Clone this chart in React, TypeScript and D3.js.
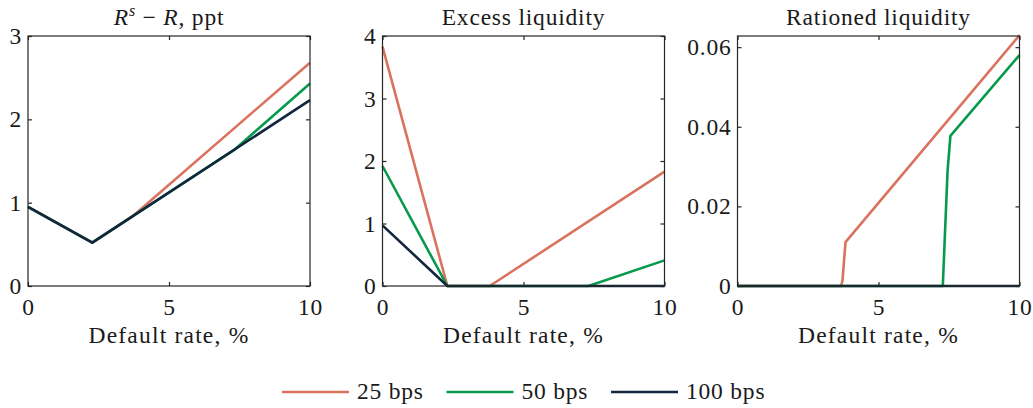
// @ts-nocheck
import React, { useEffect, useRef } from 'react';
import * as d3 from 'd3';

// series names and colours
const seriesNames = ['25 bps', '50 bps', '100 bps'];
const seriesColors = ['#d9735f', '#079a4c', '#13263f'];

// panel 1: R^s - R, ppt  (x = default rate %, y)
const spread25 = [[0, 0.95], [2.28, 0.52], [3.7, 0.835], [10, 2.68]];
const spread50 = [[0, 0.95], [2.28, 0.52], [7.3, 1.63], [10, 2.43]];
const spread100 = [[0, 0.95], [2.28, 0.52], [10, 2.23]];

// panel 2: excess liquidity
const excess25 = [[0, 3.83], [2.3, 0], [3.8, 0], [10, 1.83]];
const excess50 = [[0, 1.92], [2.3, 0], [7.3, 0], [10, 0.41]];
const excess100 = [[0, 0.97], [2.3, 0], [10, 0]];

// panel 3: rationed liquidity
const rationed25 = [[0, 0], [3.67, 0], [3.72, 0.0012], [3.83, 0.011], [10, 0.063]];
const rationed50 = [[0, 0], [7.28, 0], [7.45, 0.029], [7.55, 0.0377], [10, 0.058]];
const rationed100 = [[0, 0], [10, 0]];

const xTicks = [0, 5, 10];
const panels = [
  { title: 'spread', yMax: 3, yTicks: [0, 1, 2, 3], fmt: (d) => String(d), series: [spread25, spread50, spread100] },
  { title: 'Excess liquidity', yMax: 4, yTicks: [0, 1, 2, 3, 4], fmt: (d) => String(d), series: [excess25, excess50, excess100] },
  { title: 'Rationed liquidity', yMax: 0.0628, yTicks: [0, 0.02, 0.04, 0.06], fmt: (d) => (d === 0 ? '0' : d.toFixed(2)), series: [rationed25, rationed50, rationed100] },
];
const panelLeft = [28, 382.5, 737.5];

const FONT = '"Liberation Serif", serif';
const FS = 23.5;
const LS = 0.8;

const App: React.FC = () => {
  const ref = useRef<SVGSVGElement | null>(null);

  useEffect(() => {
    const svg = d3.select(ref.current);
    svg.selectAll('*').remove();
    const top = 36;
    const bottom = 286;
    const w = 282;

    panels.forEach((p, i) => {
      const x0 = panelLeft[i];
      const x = d3.scaleLinear().domain([0, 10]).range([x0, x0 + w]);
      const y = d3.scaleLinear().domain([0, p.yMax]).range([bottom, top]);
      const g = svg.append('g');

      // lines
      const line = d3.line().x((d) => x(d[0])).y((d) => y(d[1]));
      p.series.forEach((s, k) => {
        g.append('path')
          .attr('d', line(s))
          .attr('fill', 'none')
          .attr('stroke', seriesColors[k])
          .attr('stroke-width', 2.6)
          .attr('stroke-linejoin', 'round');
      });

      // box
      g.append('rect')
        .attr('x', x0).attr('y', top).attr('width', w).attr('height', bottom - top)
        .attr('fill', 'none').attr('stroke', '#262626').attr('stroke-width', 1.2);

      // bottom axis (inward ticks)
      const ax = g.append('g').attr('transform', `translate(0,${bottom})`)
        .call(d3.axisBottom(x).tickValues(xTicks).tickSize(-4).tickPadding(12).tickFormat(d3.format('d')));
      // top ticks
      g.append('g').attr('transform', `translate(0,${top})`)
        .call(d3.axisTop(x).tickValues(xTicks).tickSize(-4).tickFormat(() => ''));
      // left axis
      g.append('g').attr('transform', `translate(${x0},0)`)
        .call(d3.axisLeft(y).tickValues(p.yTicks).tickSize(-4).tickPadding(6).tickFormat(p.fmt));
      // right ticks
      g.append('g').attr('transform', `translate(${x0 + w},0)`)
        .call(d3.axisRight(y).tickValues(p.yTicks).tickSize(-4).tickFormat(() => ''));

      g.selectAll('.domain').remove();
      g.selectAll('.tick line').attr('stroke', '#262626').attr('stroke-width', 1.2);
      g.selectAll('.tick text')
        .attr('font-family', FONT).attr('font-size', FS).attr('fill', '#1a1a1a')
        .attr('letter-spacing', LS);
      ax.selectAll('.tick text').attr('dy', '0.71em');

      // x label
      g.append('text')
        .attr('x', x0 + w / 2).attr('y', 343)
        .attr('text-anchor', 'middle')
        .attr('font-family', FONT).attr('font-size', FS).attr('fill', '#1a1a1a')
        .attr('letter-spacing', LS + 0.4)
        .text('Default rate, %');

      // title
      const t = g.append('text')
        .attr('x', x0 + w / 2).attr('y', 25)
        .attr('text-anchor', 'middle')
        .attr('font-family', FONT).attr('font-size', FS).attr('fill', '#1a1a1a')
        .attr('letter-spacing', LS);
      if (p.title === 'spread') {
        t.append('tspan').attr('font-style', 'italic').text('R');
        t.append('tspan').attr('font-style', 'italic').attr('font-size', 16).attr('dy', -9).text('s');
        t.append('tspan').attr('dy', 9).text(' \u2212 ');
        t.append('tspan').attr('font-style', 'italic').text('R');
        t.append('tspan').text(', ppt');
      } else {
        t.text(p.title);
      }
    });

    // legend
    const legendX = [282, 446.5, 611];
    seriesNames.forEach((name, k) => {
      const lx = legendX[k];
      svg.append('line')
        .attr('x1', lx).attr('x2', lx + 67).attr('y1', 392).attr('y2', 392)
        .attr('stroke', seriesColors[k]).attr('stroke-width', 2.6);
      svg.append('text')
        .attr('x', lx + 75).attr('y', 399)
        .attr('font-family', FONT).attr('font-size', FS).attr('fill', '#1a1a1a')
        .attr('letter-spacing', LS)
        .text(name);
    });
  }, []);

  return (
    <svg
      ref={ref}
      width={1033}
      height={408}
      style={{ position: 'absolute', left: 0, top: 0, background: '#fff' }}
    />
  );
};

export default App;
